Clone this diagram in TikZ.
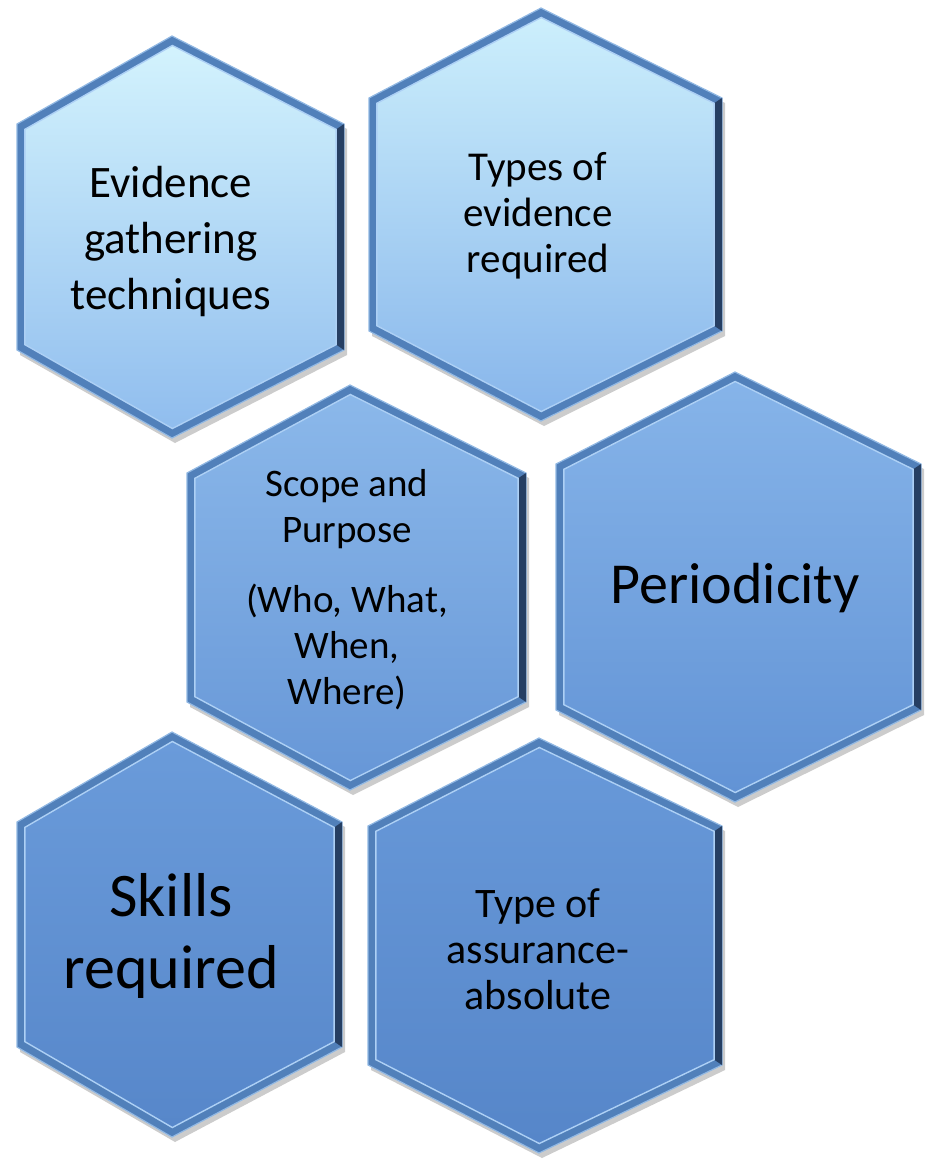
\documentclass[tikz,border=0pt]{standalone}
\usepackage{fontspec}
\setmainfont{Carlito}
\usetikzlibrary{calc}

\definecolor{rimblue}{HTML}{5180BA}
\definecolor{rimlight}{HTML}{ADD0F5}
\definecolor{rimdark}{HTML}{263F63}
\definecolor{evidtop}{HTML}{D3F3FD}
\definecolor{evidbot}{HTML}{90BDEE}
\definecolor{typetop}{HTML}{CCEFFC}
\definecolor{typebot}{HTML}{88B6EB}
\definecolor{scopetop}{HTML}{8BB8EA}
\definecolor{scopebot}{HTML}{6797D7}
\definecolor{periodtop}{HTML}{86B4E9}
\definecolor{periodbot}{HTML}{6293D5}
\definecolor{skilltop}{HTML}{6A9BDA}
\definecolor{skillbot}{HTML}{5787CA}
\definecolor{assurtop}{HTML}{6899D9}
\definecolor{assurbot}{HTML}{5686C9}

\begin{document}
\begin{tikzpicture}[x=1pt, y=-1pt]
    \tikzstyle{hexshadow}=[fill=black, opacity=0.2]
    \tikzstyle{hexrim}=[fill=rimblue, draw=rimlight!70!rimblue, line width=1.2pt, line join=miter]
    \tikzstyle{hexface}=[draw=rimlight, line width=1.4pt, line join=miter]
    \tikzstyle{hexside}=[fill=rimdark]
    \tikzstyle{hextext}=[align=center, text=black, inner sep=0pt]

    \useasboundingbox (0,0) rectangle (924,1159);

    % name / left / right / top / bottom / tip x / shoulder / colours
    \foreach \name/\l/\r/\t/\b/\c/\s/\ctop/\cbot in {
        evid/17/344/36/438/172/88/evidtop/evidbot,
        type/369/722/8/421/541/90/typetop/typebot,
        scope/187/526/385/790/350/88/scopetop/scopebot,
        period/556/921/372/802/735/92/periodtop/periodbot,
        skill/17/342/732/1137/172/90/skilltop/skillbot,
        assur/368/722/738/1153/539/88/assurtop/assurbot}
    {
        \coordinate (\name-O) at ({(\l+\r)/2},{(\t+\b)/2});
        \coordinate (\name-T) at (\c,\t);
        \coordinate (\name-UR) at (\r,\t+\s);
        \coordinate (\name-LR) at (\r,\b-\s);
        \coordinate (\name-B) at (\c,\b);
        \coordinate (\name-LL) at (\l,\b-\s);
        \coordinate (\name-UL) at (\l,\t+\s);
        \foreach \v in {T,UR,LR,B,LL,UL}
            \coordinate (\name-i\v) at ($(\name-\v)!9.5pt!(\name-O)$);

        \fill[hexshadow] ([shift={(3,5)}]\name-T) -- ([shift={(3,5)}]\name-UR)
            -- ([shift={(3,5)}]\name-LR) -- ([shift={(3,5)}]\name-B)
            -- ([shift={(3,5)}]\name-LL) -- ([shift={(3,5)}]\name-UL) -- cycle;
        \path[hexrim] (\name-T) -- (\name-UR) -- (\name-LR) -- (\name-B)
            -- (\name-LL) -- (\name-UL) -- cycle;
        \fill[hexside] (\name-UR) -- (\name-LR) -- (\name-iLR) -- (\name-iUR) -- cycle;
        \path[hexface, top color=\ctop, bottom color=\cbot] (\name-iT) -- (\name-iUR)
            -- (\name-iLR) -- (\name-iB) -- (\name-iLL) -- (\name-iUL) -- cycle;
    }

    \node[hextext, font=\fontsize{45}{56}\selectfont] (evid-text) at (171,241)
        {Evidence\\gathering\\techniques};
    \node[hextext, font=\fontsize{41}{46}\selectfont] (type-text) at (538,216)
        {Types of\\evidence\\required};
    \node[hextext, font=\fontsize{39}{46}\selectfont] (scope-text) at (347,590)
        {Scope and\\Purpose\\[24pt](Who, What,\\When,\\Where)};
    \node[hextext, font=\fontsize{58}{70}\selectfont] (period-text) at (735,588)
        {Periodicity};
    \node[hextext, font=\fontsize{62}{72}\selectfont] (skill-text) at (171,936)
        {Skills\\required};
    \node[hextext, font=\fontsize{42}{46}\selectfont] (assur-text) at (538,949)
        {Type of\\assurance-\\absolute};
\end{tikzpicture}
\end{document}
